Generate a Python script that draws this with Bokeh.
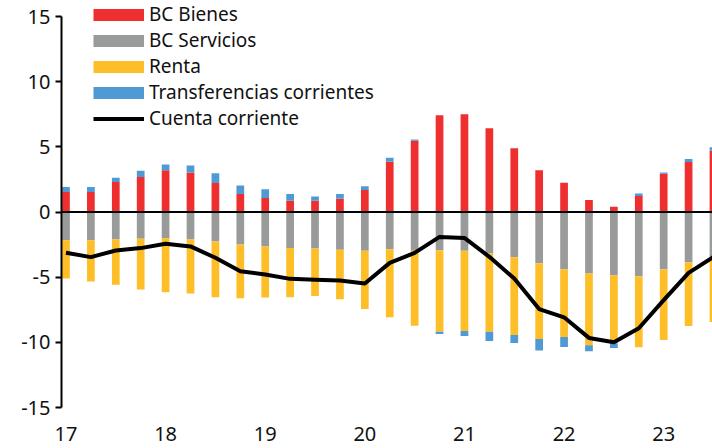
from bokeh.plotting import figure
from bokeh.models import (Range1d, FixedTicker, Span, Legend, LegendItem,
                          ColumnDataSource, LinearAxis)
from bokeh.embed import file_html
from bokeh.resources import INLINE

quarters = ["17Q1", "17Q2", "17Q3", "17Q4", "18Q1", "18Q2", "18Q3", "18Q4",
            "19Q1", "19Q2", "19Q3", "19Q4", "20Q1", "20Q2", "20Q3", "20Q4",
            "21Q1", "21Q2", "21Q3", "21Q4", "22Q1", "22Q2", "22Q3", "22Q4",
            "23Q1", "23Q2", "23Q3"]
year_labels = ["17", "18", "19", "20", "21", "22", "23"]
y_ticks = [-15, -10, -5, 0, 5, 10, 15]

bc_bienes = [1.53, 1.53, 2.30, 2.68, 3.21, 3.04, 2.22, 1.38, 1.07, 0.87, 0.87, 1.02,
             1.68, 3.86, 5.46, 7.42, 7.50, 6.43, 4.90, 3.21, 2.25, 0.92, 0.41, 1.22,
             2.94, 3.83, 4.70]
bc_servicios = [-2.17, -2.17, -2.10, -2.05, -2.02, -2.10, -2.26, -2.49, -2.64, -2.77,
                -2.79, -2.90, -2.98, -2.86, -2.98, -2.93, -2.98, -3.18, -3.47, -3.93,
                -4.39, -4.72, -4.87, -4.92, -4.39, -3.85, -3.44]
renta = [-2.93, -3.16, -3.49, -3.90, -4.13, -4.16, -4.28, -4.13, -3.92, -3.77, -3.65,
         -3.79, -4.47, -5.22, -5.74, -6.25, -6.15, -6.00, -5.96, -5.81, -5.20, -5.50,
         -5.20, -5.46, -5.43, -4.89, -5.00]
transferencias = [0.38, 0.38, 0.33, 0.49, 0.44, 0.53, 0.76, 0.66, 0.67, 0.51, 0.33,
                  0.36, 0.29, 0.30, 0.10, -0.18, -0.38, -0.71, -0.62, -0.89, -0.76,
                  -0.46, -0.36, 0.21, 0.10, 0.23, 0.27]
cuenta_corriente = [-3.13, -3.46, -2.95, -2.77, -2.43, -2.64, -3.51, -4.54, -4.79,
                    -5.13, -5.20, -5.25, -5.48, -3.90, -3.14, -1.91, -1.99, -3.44,
                    -5.10, -7.45, -8.08, -9.66, -9.99, -8.92, -6.76, -4.67, -3.44]

RED = "#EE2E2F"
GRAY = "#999B9B"
YELLOW = "#FEBE27"
BLUE = "#4F9AD4"
FONT = "Noto Sans"

n = len(quarters)
x = list(range(n))
year_ticks = [quarters.index(y + "Q1") for y in year_labels]
t_pos = [max(t, 0.0) for t in transferencias]
t_neg = [min(t, 0.0) for t in transferencias]

src = ColumnDataSource(dict(
    x=x,
    bienes=bc_bienes,
    tpos_top=[b + t for b, t in zip(bc_bienes, t_pos)],
    serv=bc_servicios,
    renta_bot=[s + r for s, r in zip(bc_servicios, renta)],
    tneg_bot=[s + r + t for s, r, t in zip(bc_servicios, renta, t_neg)],
    cuenta=cuenta_corriente,
))

# frame spans y=0..407 px; -15..15 occupies 16..407
p = figure(width=712, height=448, x_range=Range1d(-0.18, 25.96),
           y_range=Range1d(-15, 16.23), output_backend="svg",
           toolbar_location=None, x_axis_type=None, y_axis_type=None,
           min_border_left=61, min_border_right=0, min_border_top=0,
           min_border_bottom=41)
p.outline_line_color = None
p.background_fill_color = "white"
p.border_fill_color = "white"

W = 0.31
r_bienes = p.vbar(x="x", width=W, bottom=0, top="bienes", source=src,
                  fill_color=RED, line_color=None)
r_tpos = p.vbar(x="x", width=W, bottom="bienes", top="tpos_top", source=src,
                fill_color=BLUE, line_color=None)
r_serv = p.vbar(x="x", width=W, top=0, bottom="serv", source=src,
                fill_color=GRAY, line_color=None)
r_renta = p.vbar(x="x", width=W, top="serv", bottom="renta_bot", source=src,
                 fill_color=YELLOW, line_color=None)
r_tneg = p.vbar(x="x", width=W, top="renta_bot", bottom="tneg_bot", source=src,
                fill_color=BLUE, line_color=None)

p.add_layout(Span(location=0, dimension="width", line_color="black", line_width=2))

line_r = p.line(x="x", y="cuenta", source=src, line_color="black", line_width=4,
                line_join="round")

yaxis = LinearAxis(ticker=FixedTicker(ticks=y_ticks), bounds=(-15, 15),
                   major_label_overrides={v: str(v) for v in y_ticks},
                   axis_line_width=2, axis_line_color="black",
                   major_tick_line_width=2, major_tick_out=6, major_tick_in=0,
                   minor_tick_out=0, minor_tick_in=0,
                   major_label_standoff=5,
                   major_label_text_font=FONT, major_label_text_font_size="20px",
                   major_label_text_color="#111111")
p.add_layout(yaxis, "left")

xaxis = LinearAxis(ticker=FixedTicker(ticks=year_ticks),
                   major_label_overrides=dict(zip(year_ticks, year_labels)),
                   axis_line_color=None, major_tick_line_color=None,
                   major_tick_out=0, major_tick_in=0,
                   minor_tick_out=0, minor_tick_in=0,
                   minor_tick_line_color=None, major_label_standoff=19,
                   major_label_text_font=FONT, major_label_text_font_size="20px",
                   major_label_text_color="#111111")
p.add_layout(xaxis, "below")

# legend swatches: thick line keys (NaN data so nothing is drawn in the plot)
nan = float("nan")
proxies = []
for c in [RED, GRAY, YELLOW, BLUE]:
    proxies.append(p.line(x=[nan, nan], y=[nan, nan], line_color=c, line_width=12,
                          line_cap="butt"))

legend = Legend(items=[
    LegendItem(label="BC Bienes", renderers=[proxies[0]]),
    LegendItem(label="BC Servicios", renderers=[proxies[1]]),
    LegendItem(label="Renta", renderers=[proxies[2]]),
    LegendItem(label="Transferencias corrientes", renderers=[proxies[3]]),
    LegendItem(label="Cuenta corriente", renderers=[line_r]),
], location=(32, 276), glyph_width=51, glyph_height=25, label_height=24,
    label_standoff=5, spacing=0, padding=0, margin=0,
    border_line_color=None, background_fill_alpha=0,
    label_text_font=FONT, label_text_font_size="19px", label_text_color="#111111")
p.add_layout(legend)

open("out.html", "w").write(file_html(p, INLINE))
